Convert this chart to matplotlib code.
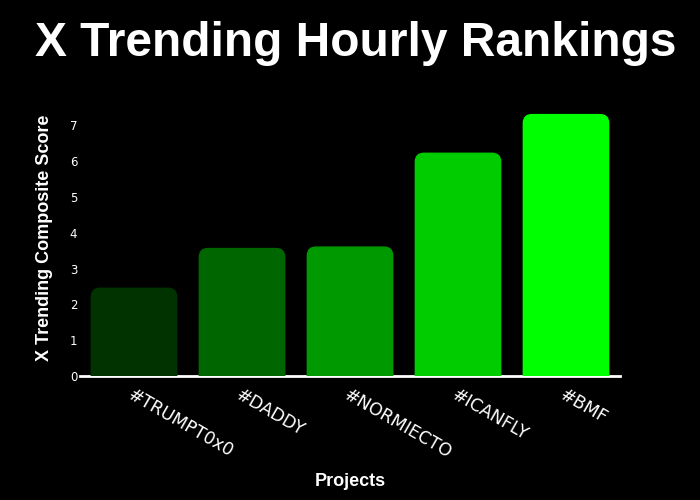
import matplotlib
matplotlib.use("Agg")
import matplotlib.pyplot as plt
from matplotlib.patches import FancyBboxPatch

projects = ["#TRUMPT0x0", "#DADDY", "#NORMIECTO", "#ICANFLY", "#BMF"]
scores = [2.45, 3.56, 3.60, 6.22, 7.30]
colors = ["#003300", "#006600", "#009900", "#00cc00", "#00ff00"]
yticks = [0, 1, 2, 3, 4, 5, 6, 7]

fig = plt.figure(figsize=(7, 5), dpi=100, facecolor="black")
W, H = 700, 500
ax = fig.add_axes([80 / W, (H - 376) / H, (620 - 80) / W, (376 - 101) / H])
ax.set_facecolor("black")

ymax = 7.68
ax.set_xlim(-0.5, len(projects) - 0.5)
ax.set_ylim(0, ymax)

bw = 0.79
for i, (v, c) in enumerate(zip(scores, colors)):
    p = FancyBboxPatch((i - bw / 2, -0.3), bw, v + 0.3,
                       boxstyle="round,pad=0,rounding_size=0.08",
                       mutation_aspect=ymax / 275 * 540 / 5,
                       facecolor=c, edgecolor=c, linewidth=1, zorder=3)
    ax.add_patch(p)

for s in ["top", "right", "left"]:
    ax.spines[s].set_visible(False)
ax.spines["bottom"].set_color("white")
ax.spines["bottom"].set_linewidth(2)
ax.spines["bottom"].set_zorder(1)

ax.set_yticks(yticks)
ax.set_yticklabels([str(t) for t in yticks], color="white", fontsize=8.5,
                   family="DejaVu Sans")
ax.tick_params(axis="y", length=0, pad=2)
ax.set_xticks(range(len(projects)))
ax.set_xticklabels(projects, rotation=-30, ha="left", va="top",
                   rotation_mode="anchor", color="white", fontsize=12.5,
                   family="DejaVu Sans")
ax.tick_params(axis="x", length=0, pad=7)

fig.text(45 / W, 1 - 238 / H, "X Trending Composite Score", color="white",
         fontsize=13, fontweight="bold", family="Liberation Sans",
         rotation=90, ha="center", va="center")
fig.text(350 / W, 1 - 482 / H, "Projects", color="white", fontsize=13,
         fontweight="bold", family="Liberation Sans", ha="center", va="center")
fig.text(355.5 / W, 1 - 43 / H, "X Trending Hourly Rankings", color="white",
         fontsize=34.5, fontweight="bold", family="Liberation Sans",
         ha="center", va="center")

fig.savefig("out.png", dpi=100, facecolor="black")
